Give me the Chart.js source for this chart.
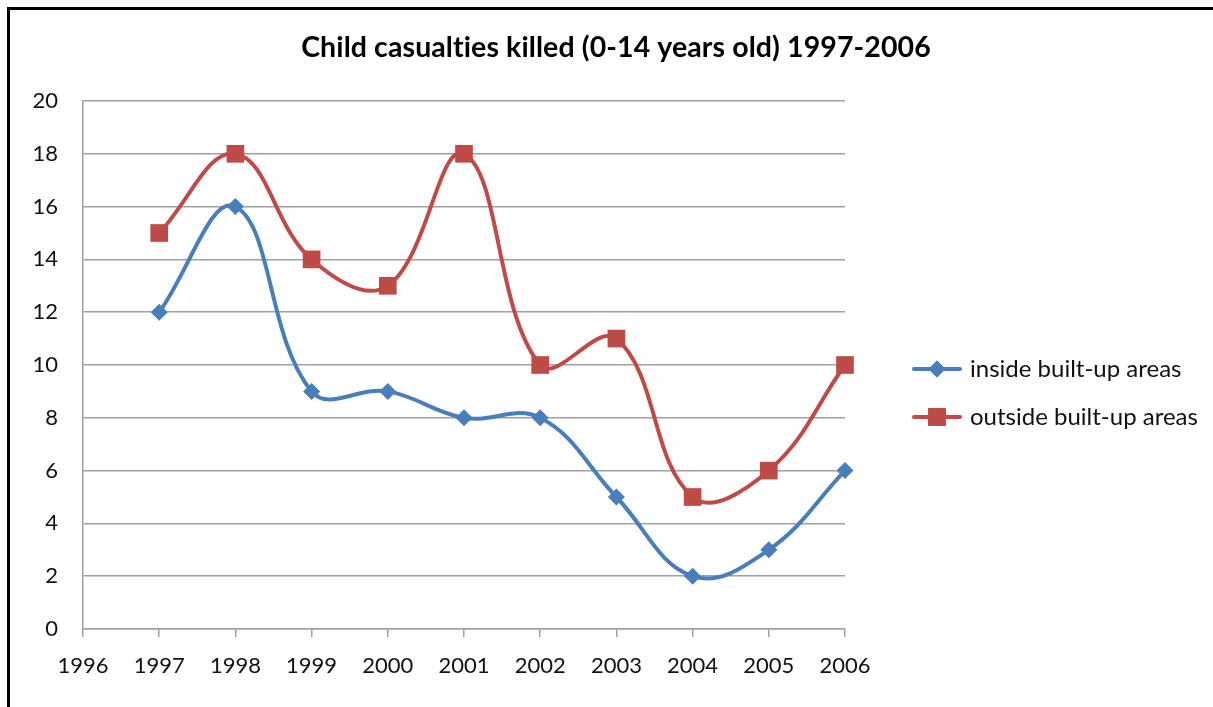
<!DOCTYPE html>
<html><head><meta charset="utf-8">
<script src="https://cdn.jsdelivr.net/npm/chart.js@4"></script>
<style>
html,body{margin:0;padding:0;background:#fff;}
#wrap{position:relative;width:1213px;height:707px;overflow:hidden;}
#frame{position:absolute;left:7px;top:7px;width:1220px;height:720px;border-top:3px solid #000;border-left:3px solid #000;box-sizing:border-box;pointer-events:none;}
canvas{position:absolute;left:0;top:0;}
</style></head>
<body><div id="wrap"><canvas id="c" width="1213" height="707"></canvas><div id="frame"></div></div>
<script>
const titleText = "Child casualties killed (0-14 years old) 1997-2006";
const years = [1997, 1998, 1999, 2000, 2001, 2002, 2003, 2004, 2005, 2006];
const insideBuiltUp = [12, 16, 9, 9, 8, 8, 5, 2, 3, 6];
const outsideBuiltUp = [15, 18, 14, 13, 18, 10, 11, 5, 6, 10];
const seriesNames = ["inside built-up areas", "outside built-up areas"];
const xMin = 1996, xMax = 2006;
const yMin = 0, yMax = 20, yStep = 2;

const FONT = "Lato, 'Open Sans', sans-serif";
const BLUE = "#4a7ebb", RED = "#be4b48";

const decorPlugin = {
  id: 'decor',
  afterDraw(chart) {
    const ctx = chart.ctx;
    ctx.save();
    // title
    ctx.fillStyle = '#000'; ctx.font = "bold 28.5px " + FONT;
    ctx.textAlign = 'center'; ctx.textBaseline = 'middle';
    try { ctx.letterSpacing = '0.1px'; } catch (e) {}
    ctx.fillText(titleText, 616, 48);
    try { ctx.letterSpacing = '0px'; } catch (e) {}
    // legend
    const items = [
      {name: seriesNames[0], color: BLUE, style: 'rectRot', r: 8.5},
      {name: seriesNames[1], color: RED, style: 'rect', r: 12.5}
    ];
    items.forEach((it, i) => {
      const y = 369 + i * 48;
      ctx.strokeStyle = it.color; ctx.lineWidth = 4; ctx.lineCap = 'round';
      ctx.beginPath(); ctx.moveTo(914, y); ctx.lineTo(960, y); ctx.stroke();
      ctx.fillStyle = it.color;
      Chart.helpers.drawPoint(ctx, {pointStyle: it.style, radius: it.r, borderWidth: 0}, 937, y);
      ctx.fill();
      ctx.fillStyle = '#111'; ctx.font = "24px " + FONT; ctx.textBaseline = 'middle'; ctx.textAlign = 'left';
      ctx.fillText(it.name, 970, y);
    });
    ctx.restore();
  }
};

new Chart(document.getElementById('c'), {
  type: 'line',
  data: {
    datasets: [
      {label: seriesNames[0], data: years.map((y, i) => ({x: y, y: insideBuiltUp[i]})),
       borderColor: BLUE, backgroundColor: BLUE, borderWidth: 4, tension: 0.4, clip: false,
       pointStyle: 'rectRot', pointRadius: 8.5, pointBorderWidth: 0, pointBackgroundColor: BLUE},
      {label: seriesNames[1], data: years.map((y, i) => ({x: y, y: outsideBuiltUp[i]})),
       borderColor: RED, backgroundColor: RED, borderWidth: 4, tension: 0.4, clip: false,
       pointStyle: 'rect', pointRadius: 12.5, pointBorderWidth: 0, pointBackgroundColor: RED}
    ]
  },
  options: {
    responsive: false, animation: false, devicePixelRatio: 1,
    layout: {padding: {left: 0, right: 368, top: 101, bottom: 0}},
    plugins: {
      legend: {display: false},
      tooltip: {enabled: false},
      title: {display: false}
    },
    scales: {
      x: {type: 'linear', min: xMin, max: xMax,
        ticks: {stepSize: 1, color: '#111', font: {family: FONT, size: 22}, padding: 16,
          callback: v => String(v), autoSkip: false, maxRotation: 0},
        grid: {display: true, drawOnChartArea: false, drawTicks: true, tickLength: 8, color: '#a0a0a0', lineWidth: 1.5},
        border: {display: true, color: '#a0a0a0', width: 1.5},
        afterFit: s => { s.height = 78; }
      },
      y: {min: yMin, max: yMax,
        ticks: {stepSize: yStep, color: '#111', font: {family: FONT, size: 22}, padding: 25},
        grid: {color: '#a0a0a0', lineWidth: 1.5, drawTicks: false},
        border: {display: true, color: '#a0a0a0', width: 1.5},
        afterFit: s => { s.width = 83; }
      }
    }
  },
  plugins: [decorPlugin]
});
</script></body></html>
